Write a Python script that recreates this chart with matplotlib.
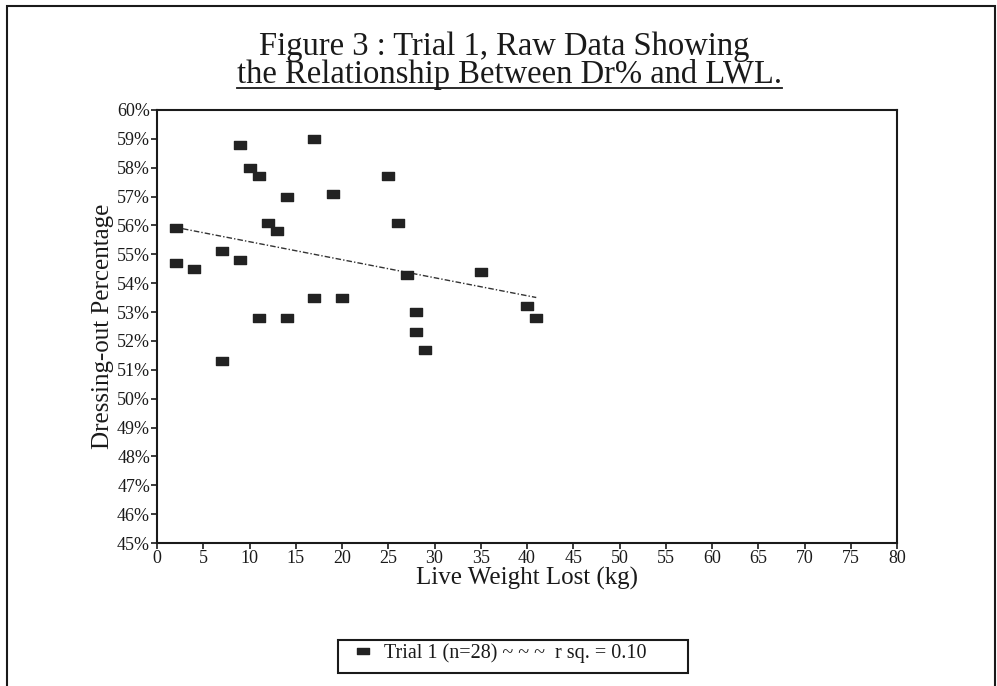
import numpy as np
import matplotlib
matplotlib.use("Agg")
import matplotlib.pyplot as plt
from matplotlib.path import Path
from matplotlib.patches import Rectangle
from matplotlib.lines import Line2D

# live weight lost (kg) and dressing-out percentage
lwl = [2, 2, 4, 7, 7, 9, 9, 10, 11, 11, 12, 13, 14, 14, 17, 17, 19, 20,
       25, 26, 27, 28, 28, 29, 35, 40, 41]
dr_pct = [55.9, 54.7, 54.5, 55.1, 51.3, 58.8, 54.8, 58.0, 57.7, 52.8, 56.1, 55.8,
          57.0, 52.8, 59.0, 53.5, 57.1, 53.5, 57.7, 56.1, 54.3, 53.0, 52.3, 51.7,
          54.4, 53.2, 52.8]

x_ticks = list(range(0, 81, 5))
y_ticks = list(range(45, 61))
y_tick_labels = [f"{v}%" for v in y_ticks]

title_1 = "Figure 3 : Trial 1, Raw Data Showing"
title_2 = "the Relationship Between Dr% and LWL."
legend_text = "Trial 1 (n=28) ~ ~ ~  r sq. = 0.10"

plt.rcParams['font.family'] = ['Liberation Serif', 'DejaVu Serif']
ink = '#1a1a1a'

fig = plt.figure(figsize=(9.97, 6.86), dpi=100)
ax = fig.add_axes([157/997, 1 - 543/686, (897 - 157)/997, (543 - 110)/686])

# flat rectangular marker like the original
rect = Path([(-1, -0.6), (1, -0.6), (1, 0.6), (-1, 0.6), (-1, -0.6)],
            [Path.MOVETO, Path.LINETO, Path.LINETO, Path.LINETO, Path.CLOSEPOLY])

ax.plot(lwl, dr_pct, linestyle='none', marker=rect, markersize=8.5,
        color='#222222', zorder=3)

# least squares trend line
slope, icpt = np.polyfit(lwl, dr_pct, 1)
xs = np.array([min(lwl) + 0.8, max(lwl)])
ax.plot(xs, slope * xs + icpt, color='#333333', linewidth=1.0,
        linestyle=(0, (4, 1.5, 1, 1.5)), zorder=2)

ax.set_xlim(0, 80)
ax.set_ylim(45, 60)
ax.set_xticks(x_ticks)
ax.set_xticklabels([str(t) for t in x_ticks], fontsize=13)
ax.set_yticks(y_ticks)
ax.set_yticklabels(y_tick_labels, fontsize=13)
ax.tick_params(axis='both', direction='out', length=4, width=1.2, colors=ink, pad=1)
for s in ax.spines.values():
    s.set_linewidth(1.5)
    s.set_color(ink)

ax.set_xlabel("Live Weight Lost (kg)", fontsize=18, color=ink, labelpad=0)
ax.set_ylabel("Dressing-out Percentage", fontsize=18, color=ink, labelpad=2)

fig.text(0.506, 1 - 55/686, title_1, ha='center', va='baseline', fontsize=23.5, color=ink)
t2 = fig.text(0.511, 1 - 83/686, title_2, ha='center', va='baseline', fontsize=23.5, color=ink)

# underline the second title line, a little under its baseline
fig.canvas.draw()
bb = t2.get_window_extent().transformed(fig.transFigure.inverted())
uy = 1 - 88/686
fig.add_artist(Line2D([bb.x0, bb.x1], [uy, uy],
                      transform=fig.transFigure, color=ink, linewidth=1.3))

# legend box at the bottom
fig.add_artist(Rectangle((338/997, 1 - 673/686), (688 - 338)/997, (673 - 640)/686,
                         transform=fig.transFigure, fill=False, edgecolor=ink, linewidth=1.5))
fig.add_artist(Line2D([363/997], [1 - 651/686], transform=fig.transFigure,
                      marker=rect, markersize=8, color='#222222', linestyle='none'))
fig.text(384/997, 1 - 653/686, legend_text, ha='left', va='center', fontsize=14.5, color=ink)

# outer frame
fig.add_artist(Rectangle((7/997, -0.02), (995 - 7)/997, 1.02 - 6/686,
                         transform=fig.transFigure, fill=False, edgecolor=ink, linewidth=1.5))

fig.savefig("out.png", dpi=100)
